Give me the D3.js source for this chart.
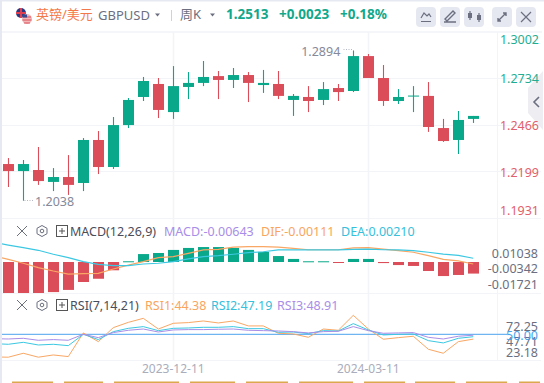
<!DOCTYPE html>
<html>
<head>
<meta charset="utf-8">
<script src="https://cdn.jsdelivr.net/npm/d3@7"></script>
<style>
  html, body { margin: 0; padding: 0; background: #fff; overflow: hidden; }
  text { font-family: "Noto Sans", "Noto Sans CJK SC", sans-serif; }
</style>
</head>
<body>
<div id="chart"></div>
<script>
// weekly candles
const opens = [1.2247,1.2207,1.2213,1.2145,1.2173,1.2139,1.2384,1.2230,1.2469,1.2629,1.2703,1.2543,1.2686,1.2709,1.2748,1.2726,1.2754,1.2697,1.2703,1.2612,1.2629,1.2612,1.2680,1.2663,1.2862,1.2737,1.2606,1.2632,1.2635,1.2452,1.2384,1.2504]
const highs = [1.2281,1.2270,1.2344,1.2224,1.2298,1.2395,1.2435,1.2515,1.2623,1.2743,1.2737,1.2805,1.2771,1.2834,1.2777,1.2794,1.2771,1.2783,1.2777,1.2646,1.2691,1.2714,1.2703,1.2894,1.2874,1.2811,1.2674,1.2691,1.2714,1.2504,1.2549,1.2521]
const lows = [1.2116,1.2038,1.2128,1.2093,1.2071,1.2093,1.2190,1.2219,1.2452,1.2606,1.2509,1.2504,1.2617,1.2691,1.2617,1.2680,1.2600,1.2652,1.2617,1.2521,1.2543,1.2583,1.2606,1.2657,1.2737,1.2578,1.2589,1.2543,1.2430,1.2373,1.2304,1.2481]
const closes = [1.2207,1.2247,1.2150,1.2173,1.2128,1.2384,1.2230,1.2469,1.2612,1.2720,1.2555,1.2691,1.2709,1.2743,1.2726,1.2754,1.2709,1.2709,1.2635,1.2635,1.2606,1.2674,1.2657,1.2862,1.2737,1.2606,1.2629,1.2637,1.2458,1.2378,1.2498,1.2521]

const macdBars = [-.01721,-.01721,-.01721,-.0167,-.0155,-.0111,-.0093,-.0046,.0004,.0044,.0050,.0067,.0078,.0083,.0083,.0078,.0067,.0056,.0033,.0017,.0004,.0004,-.0004,.0017,.0017,-.0006,-.0017,-.0022,-.0050,-.0078,-.0072,-.00643]
// line series carry one extra leading value: the week just off the left edge
const dif = [.0035,.0015,-.0007,-.0031,-.0050,-.0067,-.0065,-.0063,-.0039,-.0017,.0002,.0024,.0030,.0048,.0067,.0070,.0083,.0085,.0085,.0083,.0076,.0068,.0068,.0068,.0078,.0080,.0072,.0063,.0054,.0035,.0015,.0006,-.00111]
const dea = [.0109,.0094,.0080,.0065,.0043,.0024,.0002,-.0013,-.0020,-.0020,-.0011,-.0007,.0002,.0017,.0030,.0035,.0043,.0052,.0057,.0067,.0067,.0067,.0067,.0067,.0070,.0072,.0068,.0067,.0063,.0054,.0044,.0037,.0021]

const rsi1 = [23.5,23.18,27.8,23.2,25.8,23.9,51.6,41.4,57.8,64.0,68.7,56.2,62.9,63.7,65.6,63.3,65.6,59.8,59.8,51.2,50.4,46.5,56.2,54.7,72.25,56.2,44.2,46.1,47.7,32.5,27.8,41.4,44.38]
const rsi2 = [39.1,38.3,40.6,37.5,38.3,36.7,50,43.8,53.1,57,59,54.3,57,57.4,58.2,58.2,59,56.6,56.6,52.3,52.7,50.8,54.3,53.9,62.5,55.1,49.2,50,50.4,42.6,39.9,45.3,47.19]
const rsi3 = [44.9,44.5,45.3,43,43.8,43,50,46.1,52,54.7,56.2,52.7,55.1,55.5,55.5,55.9,56.2,54.7,54.3,53.9,53.1,51.6,53.1,53.5,59,54.3,51.2,51.6,52,46.5,44.5,47.7,48.91]

const priceTicks = ['1.3002','1.2734','1.2466','1.2199','1.1931']
const macdTicks = ['0.01038','-0.00342','-0.01721']
const rsiTicks = ['72.25','47.71','23.18']
const dateTicks = [['2023-12-11', 11], ['2024-03-11', 24]]

const green = '#0aa88a', red = '#dc4d5a', orange = '#f9a764', cyan = '#3cc8e2', purple = '#a88ee8'
const blue = '#4aa3ee', grid = '#f3f4f8', ink = '#6b6f80', axisEdge = 497.5

const svg = d3.select('#chart').append('svg').attr('width', 544).attr('height', 383)

// page frame
svg.append('rect').attr('width', 544).attr('height', 383).attr('fill', '#fff')
svg.append('rect').attr('width', 544).attr('height', 1.5).attr('fill', '#e6e9f2')
svg.append('rect').attr('width', 2).attr('height', 383).attr('fill', '#e6e9f2')

let x = d3.scaleLinear().domain([0, 31]).range([8.3, 473.3])
let y = d3.scaleLinear().domain([1.1931, 1.3002]).range([219.5, 31.5])
let yMacd = d3.scaleLinear().domain([-.01721, .01038]).range([293, 243.3])
let yRsi = d3.scaleLinear().domain([23.18, 72.25]).range([357.2, 315.3])
// keep wicks on whole pixels
let cx = i => Math.floor(x(i)) + .5

// grid
let gridH = [78.5, 125.5, 171.5, 218.5, 293.5, 360.5]
svg.selectAll('line.h').data(gridH).join('line').attr('class', 'h')
  .attr('x1', 2).attr('x2', 541).attr('y1', d => d).attr('y2', d => d)
  .attr('stroke', grid).attr('stroke-width', 1)
svg.append('rect').attr('x', 2).attr('y', 31).attr('width', 540).attr('height', 2).attr('fill', '#f5f6f9')
svg.selectAll('line.v').data(dateTicks).join('line').attr('class', 'v')
  .attr('x1', d => cx(d[1])).attr('x2', d => cx(d[1])).attr('y1', 32).attr('y2', 360)
  .attr('stroke', grid).attr('stroke-width', 1.5)
svg.append('line').attr('x1', axisEdge).attr('x2', axisEdge).attr('y1', 32).attr('y2', 360)
  .attr('stroke', grid).attr('stroke-width', 1)

// candles
let candles = svg.append('g').selectAll('g').data(d3.range(opens.length)).join('g')
let candleColor = i => closes[i] >= opens[i] ? green : red
candles.append('line')
  .attr('x1', cx).attr('x2', cx)
  .attr('y1', i => y(highs[i])).attr('y2', i => y(lows[i]))
  .attr('stroke', candleColor).attr('stroke-width', 1.1)
candles.append('rect')
  .attr('x', i => cx(i) - 5.5).attr('width', 11)
  .attr('y', i => y(Math.max(opens[i], closes[i])))
  .attr('height', i => Math.max(1, Math.abs(y(opens[i]) - y(closes[i]))))
  .attr('fill', candleColor)

// high / low markers
svg.append('text').attr('x', x(d3.maxIndex(highs)) - 13).attr('y', 56).attr('text-anchor', 'end')
  .attr('font-size', 12.5).attr('fill', '#85899a').text(d3.max(highs).toFixed(4))
svg.append('text').attr('x', 35).attr('y', 206)
  .attr('font-size', 12.5).attr('fill', '#85899a').text(d3.min(lows).toFixed(4))
svg.append('path').attr('d', `M${cx(d3.maxIndex(highs)) - 10},49.5H${cx(d3.maxIndex(highs)) - 1}`)
  .attr('stroke', '#b5b8c4').attr('stroke-dasharray', '1 1.5')
svg.append('path').attr('d', `M${cx(d3.minIndex(lows)) + 1},200.5H33`)
  .attr('stroke', '#b5b8c4').attr('stroke-dasharray', '1 1.5')

// collapse tab on the right edge
svg.append('path').attr('d', 'M528,88 L543,71 L543,130 L528,113 Z').attr('fill', '#eeeef2')
svg.append('path').attr('d', 'M539,97 L534,102 L539,107').attr('fill', 'none').attr('stroke', ink).attr('stroke-width', 1.6)

// price axis labels are kept inside the pane
svg.selectAll('text.price').data(priceTicks).join('text').attr('class', 'price')
  .attr('x', 539).attr('text-anchor', 'end').attr('font-size', 12.5)
  .attr('y', d => Math.max(39, Math.min(210, y(+d))) + 4.5)
  .attr('fill', (d, i) => i < 2 ? '#1fae93' : '#e2606c')
  .text(d => d)

// MACD
let zero = yMacd(0)
svg.append('g').selectAll('rect').data(macdBars).join('rect')
  .attr('x', (d, i) => cx(i) - 5.5).attr('width', 11)
  .attr('y', d => d > 0 ? yMacd(d) : zero)
  .attr('height', d => Math.max(1, Math.abs(yMacd(d) - zero)))
  .attr('fill', d => d > 0 ? green : red)

// lines start just inside the left edge
svg.append('clipPath').attr('id', 'plot').append('rect')
  .attr('x', 2).attr('y', 32).attr('width', 496).attr('height', 330)

function drawLine(values, scale, color, width) {
  let line = d3.line().x((d, i) => x(i - 1)).y(d => scale(d))
  svg.append('path').datum(values)
    .attr('clip-path', 'url(#plot)')
    .attr('d', line).attr('fill', 'none')
    .attr('stroke', color).attr('stroke-width', width)
}
drawLine(dif, yMacd, orange, 1.2)
drawLine(dea, yMacd, cyan, 1.2)

// RSI
svg.append('line').attr('x1', 2).attr('x2', 507).attr('y1', yRsi(50)).attr('y2', yRsi(50))
  .attr('stroke', blue).attr('stroke-width', 1)
drawLine(rsi1, yRsi, orange, 1)
drawLine(rsi2, yRsi, cyan, 1)
drawLine(rsi3, yRsi, purple, 1)

// squeezed axis labels of the lower panes
let macdLabelY = [253, 268.5, 284]
svg.selectAll('text.macd').data(macdTicks).join('text').attr('class', 'macd')
  .attr('x', 538).attr('text-anchor', 'end').attr('font-size', 12.5).attr('fill', ink)
  .attr('y', (d, i) => macdLabelY[i] + 4.5).text(d => d)
let rsiLabelY = [326.5, 341.5, 352]
svg.selectAll('text.rsi').data(rsiTicks).join('text').attr('class', 'rsi')
  .attr('x', 538).attr('text-anchor', 'end').attr('font-size', 12.5).attr('fill', ink)
  .attr('y', (d, i) => rsiLabelY[i] + 4.5).text(d => d)
svg.append('text').attr('x', 538).attr('y', 340).attr('text-anchor', 'end')
  .attr('font-size', 12.5).attr('fill', blue).text('50.00')

// date labels
svg.selectAll('text.date').data(dateTicks).join('text').attr('class', 'date')
  .attr('x', d => x(d[1])).attr('y', 373).attr('text-anchor', 'middle')
  .attr('font-size', 12).attr('fill', '#aaadbb').text(d => d[0])

// next row peeking in at the bottom
let tabs = [[12, 53], [64, 103], [114, 179], [190, 235], [246, 288], [299, 353], [364, 405], [415, 455], [466, 507], [519, 540]]
svg.selectAll('rect.tab').data(tabs).join('rect').attr('class', 'tab')
  .attr('x', d => d[0]).attr('y', 381.5).attr('width', d => d[1] - d[0]).attr('height', 1.5)
  .attr('fill', '#dca84e')

// indicator headers
function legend(yPos, name, parts) {
  let g = svg.append('g').attr('transform', `translate(0,${yPos})`)
  g.append('path').attr('d', 'M17,-5 L27,5 M27,-5 L17,5').attr('stroke', ink).attr('stroke-width', 1).attr('fill', 'none')
  g.append('path').attr('d', 'M42,-5.5 L47,-2.7 L47,2.7 L42,5.5 L37,2.7 L37,-2.7 Z').attr('stroke', ink).attr('fill', 'none')
  g.append('circle').attr('cx', 42).attr('cy', 0).attr('r', 1.8).attr('stroke', ink).attr('fill', 'none')
  g.append('rect').attr('x', 56.5).attr('y', -5.5).attr('width', 11).attr('height', 11).attr('stroke', '#555').attr('fill', 'none')
  g.append('path').attr('d', 'M59,0 H65 M62,-3 V3').attr('stroke', '#555')
  g.append('text').attr('x', 70).attr('y', 4.5).attr('font-size', 12.5).attr('fill', '#4a4d5a').text(name)
  parts.forEach(p => {
    g.append('text').attr('x', p[2]).attr('y', 4.5).attr('font-size', 12.5).attr('fill', p[1]).text(p[0])
  })
}
legend(231, 'MACD(12,26,9)', [['MACD:-0.00643', purple, 164], ['DIF:-0.00111', '#f9a55e', 261], ['DEA:0.00210', '#35c0dc', 341]])
legend(305, 'RSI(7,14,21)', [['RSI1:44.38', '#f9a55e', 145], ['RSI2:47.19', '#35c0dc', 211], ['RSI3:48.91', purple, 277]])

// toolbar
let flag1 = svg.append('g')
flag1.append('circle').attr('cx', 21).attr('cy', 13).attr('r', 5).attr('fill', '#2b3a80')
flag1.append('path').attr('d', 'M16,13H26M21,8V18').attr('stroke', '#e04050').attr('stroke-width', 2)
let flag2 = svg.append('g')
flag2.append('circle').attr('cx', 27).attr('cy', 19).attr('r', 5).attr('fill', '#f2b8b8')
flag2.append('path').attr('d', 'M23,17H31M22.5,20H31.5M24,23H30').attr('stroke', '#d9505a').attr('stroke-width', 1.2)
flag2.append('rect').attr('x', 22.5).attr('y', 14.5).attr('width', 4.5).attr('height', 3).attr('fill', '#3a4a90')

svg.append('text').attr('x', 36).attr('y', 19).attr('font-size', 13).attr('fill', '#f4794a').text('英镑/美元')
svg.append('text').attr('x', 98).attr('y', 20).attr('font-size', 13).attr('fill', ink).text('GBPUSD')
svg.append('path').attr('d', 'M155,13.5H160L157.5,16.5Z').attr('fill', ink)
svg.append('line').attr('x1', 171.5).attr('x2', 171.5).attr('y1', 10).attr('y2', 21).attr('stroke', '#cfd2da')
svg.append('text').attr('x', 180).attr('y', 19).attr('font-size', 13).attr('fill', ink).text('周K')
svg.append('path').attr('d', 'M210,13.5H215L212.5,16.5Z').attr('fill', ink)
let quote = [['1.2513', 226], ['+0.0023', 279], ['+0.18%', 340]]
svg.selectAll('text.quote').data(quote).join('text').attr('class', 'quote')
  .attr('x', d => d[1]).attr('y', 19).attr('font-size', 13.5).attr('font-weight', 700)
  .attr('fill', '#11a88b').text(d => d[0])

let buttons = [416, 440, 464, 492, 516]
svg.selectAll('rect.btn').data(buttons).join('rect').attr('class', 'btn')
  .attr('x', d => d).attr('y', 7).attr('width', 20).attr('height', 20).attr('rx', 4).attr('fill', '#e6e8f1')
let icon = (d, w) => svg.append('path').attr('d', d).attr('fill', 'none').attr('stroke', ink).attr('stroke-width', w || 1.2)
icon('M421,18 L424,13 L427,16 L429,14 L431,17 M421,21.5H431')
icon('M445,19 L453,11 L455,13 L447,21 Z M444,22H456', 1.4)
icon('M470,11V20 M479,13V22')
svg.append('rect').attr('x', 468).attr('y', 13).attr('width', 4).attr('height', 5).attr('fill', ink)
svg.append('rect').attr('x', 477).attr('y', 15).attr('width', 4).attr('height', 5).attr('fill', ink)
icon('M498,21 L506,13 M503,13H506V16 M498,18V21H501', 1.4)
icon('M521,12 L531,22 M531,12 L521,22')
</script>
</body>
</html>
